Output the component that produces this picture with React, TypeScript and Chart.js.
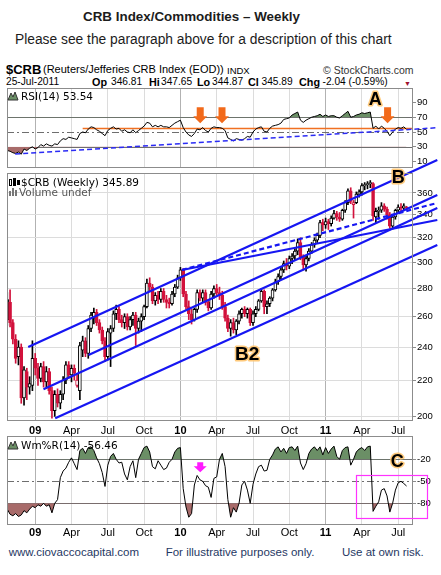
import React, { useEffect, useRef } from "react";
import { Chart, registerables } from "chart.js";

Chart.register(...registerables);

const SANS = '"Liberation Sans", Arial, Helvetica, sans-serif';
const VERD = '"DejaVu Sans", Verdana, sans-serif';

// ---------------- data (weekly bars, 27-Oct-2008 .. 25-Jul-2011) ----------------
const opens = [258,270,256,245,234,240,210,225,216,217, 233,227,221,228,219,225,214,203,212,207, 212,220,229,223,227,217,214,238,244,236, 252,259,263,256,251,244,234,249,252,262, 265,258,256,260,253,258,261,252,257,260, 267,284,281,271,275,272,278,272,270,269, 276,281,288,294,276,267,262,258,265,277, 273,277,270,266,276,280,277,275,267,259, 252,256,251,257,262,265,262,265,256,262, 265,271,278,267,269,273,279,285,289,294, 299,297,303,305,309,316,304,298,303,309, 314,318,322,333,331,334,332,337,341,338, 336,344,351,362,349,351,359,361,367,368, 369,369,338,343,344,348,345,340,330,338, 344,347,346,346.81];
const highs = [277,279,258,248,244,242,228,227,222,244, 236,230,230,231,228,227,216,214,215,214, 222,231,231,229,229,224,243,247,246,254, 263,266,265,258,253,246,252,254,264,268, 267,261,262,262,260,263,263,259,262,268, 287,288,283,277,278,280,280,275,273,278, 283,290,296,295,278,271,265,266,279,279, 279,279,272,278,282,283,281,278,270,261, 258,259,258,264,266,267,266,266,264,267, 272,280,279,271,274,280,287,291,296,301, 303,305,307,311,319,320,306,305,311,316, 320,324,335,336,337,336,339,344,343,342, 345,353,364,365,353,361,363,369,370,371, 372,370,346,347,351,350,347,342,340,345, 349,350,350,347.65];
const lows = [254,253,242,230,229,207,206,209,212,214, 223,217,219,216,216,212,199,200,205,204, 209,218,221,219,220,216,209,234,234,233, 250,255,254,249,242,231,232,228,250,258, 256,253,252,251,251,254,241,249,250,258, 266,278,269,268,269,270,270,266,266,268, 274,280,286,274,265,258,255,257,263,271, 270,268,264,265,273,275,272,265,257,250, 247,249,248,255,259,260,259,254,254,260, 264,270,262,262,267,271,278,283,287,292, 294,295,299,302,306,302,294,293,301,307, 312,316,320,326,328,327,330,336,335,334, 335,342,349,350,337,350,356,358,363,364, 365,335,333,336,342,343,336,328,328,336, 342,343,344,344.87];
const closes = [272,256,245,233,240,210,226,216,218,233, 227,221,228,219,225,214,203,212,207,212, 220,229,223,227,224,220,241,244,236,252, 261,263,256,251,244,234,250,252,262,265, 258,256,260,253,258,261,252,257,260,267, 284,281,271,275,272,278,272,270,269,276, 281,288,294,276,267,262,258,265,277,273, 277,270,266,276,280,277,275,267,259,252, 256,251,257,262,265,262,265,256,262,265, 271,278,267,269,273,279,285,289,294,299, 297,303,305,309,316,304,298,303,309,314, 318,322,333,331,334,332,337,341,338,336, 344,351,362,352,351,359,361,367,368,369, 370,339,343,344,348,345,340,330,338,344, 347,346,347.93,345.89];
const rsi14 = [25,24,22,21,23,20,27,25,28,30, 27,29,33,31,34,32,31,34,33,38, 41,40,43,42,41,40,48,50,49,54, 57,56,53,51,48,45,52,55,57,54, 55,51,53,50,49,53,49,52,55,58, 63,62,57,59,57,59,57,57,56,59, 62,64,66,56,50,46,44,48,54,53, 56,52,50,55,57,56,56,55,52,42, 40,38,41,40,39,41,44,43,50,54, 56,57,51,50,55,58,59,60,62,67, 68,69,73,75,77,66,63,66,68,70, 71,72,74,71,73,71,72,72,70,69, 72,75,78,70,71,73,74,76,75,76, 77,55,58,54,58,55,51,45,50,54, 56,55,57,53.54];
const willR14 = [-88,-95,-97,-94,-98,-96,-90,-93,-88,-84, -86,-82,-84,-80,-84,-82,-93,-80,-75,-45, -36,-32,-24,-18,-26,-34,-8,-5,-12,-4, -3,-8,-18,-26,-38,-57,-28,-16,-12,-20, -25,-24,-40,-48,-30,-22,-45,-20,-12,-4, -2,-10,-30,-33,-22,-28,-34,-32,-24,-20, -10,-5,-4,-60,-85,-99,-94,-55,-42,-48, -50,-56,-58,-72,-46,-44,-20,-12,-30,-75, -99,-86,-92,-80,-55,-50,-62,-80,-54,-40, -30,-28,-36,-35,-20,-14,-6,-3,-10,-5, -12,-4,-3,-8,-2,-25,-34,-26,-12,-6, -3,-8,-3,-14,-4,-12,-6,-2,-16,-20, -8,-4,-3,-28,-20,-10,-6,-4,-8,-3, -2,-91,-84,-78,-62,-60,-70,-92,-80,-62, -52,-50,-53,-56.46];

const weeks = closes.map((_, i) => i);
const quarterWeeks = [10, 23, 36, 49, 62, 75, 88, 101, 114, 127, 140];
const quarterLabels = ["09", "Apr", "Jul", "Oct", "10", "Apr", "Jul", "Oct", "11", "Apr", "Jul"];
const yearWeeks = [10, 62, 114];
const priceTicks = [200, 220, 240, 260, 280, 300, 320, 340, 360];
const rsiTicks = [10, 30, 50, 70, 90];
const willTicks = [-20, -50, -80];

// trend lines drawn on the chart: [week, value] end points
const priceTrendLines = [
  { pts: [[7.5, 240.0], [154, 392.7]], dashed: false },
  { pts: [[29.1, 235.0], [154, 358.1]], dashed: false },
  { pts: [[12.97, 214.8], [154, 346.1]], dashed: false },
  { pts: [[17.16, 199.0], [154, 314.0]], dashed: false },
  { pts: [[62.54, 294.0], [154, 350.7]], dashed: true },
  { pts: [[62.54, 294.0], [154, 335.3]], dashed: false },
];
const rsiTrendLine = [[2.83, 20.3], [154, 55.8]];
const rsiSignalLevel = 56;
const rsiSignalStartWeek = 27;
const rsiArrowWeeks = [69.1, 76.9, 136.2];
const rsiArrowTip = 61.8;
const labelA = [131.8, 93.2];
const labelB = [140, 374.5];
const labelB2 = [85.9, 235];
const labelC = [139.7, -23.7];
const willArrow = [69.1, -37.7];
const willBox = [[124.9, -41.4], [150.3, -100.5]];

// ---------------- helpers ----------------
const UP = "#000000";
const DOWN = "#d2123c";
const GREEN = "#6b8f66";
const RED = "#a86b6a";
const candleColor = weeks.map((i) => (closes[i] < (i > 0 ? closes[i - 1] : opens[i]) ? DOWN : UP));
const bodyFill = weeks.map((i) => (closes[i] > opens[i] ? "#ffffff" : candleColor[i]));

function frame(chart: any) {
  const { ctx, chartArea: a } = chart;
  ctx.save();
  ctx.strokeStyle = "#8c8c8c";
  ctx.lineWidth = 1;
  ctx.strokeRect(Math.round(a.left) + 0.5, Math.round(a.top) + 0.5, Math.round(a.right - a.left) - 1, Math.round(a.bottom - a.top) - 1);
  ctx.restore();
}

function refLine(chart: any, value: number, color: string, dash: number[], width: number, fromWeek?: number) {
  const { ctx, chartArea: a, scales } = chart;
  const y = Math.round(scales.y.getPixelForValue(value)) + 0.5;
  const x0 = fromWeek !== undefined ? scales.x.getPixelForValue(fromWeek) : a.left;
  ctx.save();
  ctx.beginPath();
  ctx.setLineDash(dash);
  ctx.strokeStyle = color;
  ctx.lineWidth = width;
  ctx.moveTo(x0, y);
  ctx.lineTo(a.right, y);
  ctx.stroke();
  ctx.restore();
}

function downArrow(ctx: any, x: number, tipY: number, color: string, stemW: number, stemH: number, headW: number, headH: number) {
  const top = tipY - headH - stemH;
  ctx.save();
  ctx.fillStyle = color;
  ctx.beginPath();
  ctx.moveTo(x - stemW / 2, top);
  ctx.lineTo(x + stemW / 2, top);
  ctx.lineTo(x + stemW / 2, tipY - headH);
  ctx.lineTo(x + headW / 2, tipY - headH);
  ctx.lineTo(x, tipY);
  ctx.lineTo(x - headW / 2, tipY - headH);
  ctx.lineTo(x - stemW / 2, tipY - headH);
  ctx.closePath();
  ctx.fill();
  ctx.restore();
}

function tag(chart: any, text: string, pos: number[], size: number) {
  const { ctx, scales } = chart;
  const x = scales.x.getPixelForValue(pos[0]);
  const y = scales.y.getPixelForValue(pos[1]);
  ctx.save();
  ctx.font = `bold ${size}px ${SANS}`;
  ctx.textAlign = "center";
  ctx.textBaseline = "middle";
  ctx.lineJoin = "round";
  ctx.lineWidth = 3;
  ctx.strokeStyle = "rgba(255,196,110,0.9)";
  ctx.strokeText(text, x, y);
  ctx.fillStyle = "#000";
  ctx.fillText(text, x, y);
  ctx.restore();
}

function mountainIcon(ctx: any, x: number, y: number) {
  ctx.save();
  ctx.beginPath();
  ctx.moveTo(x, y);
  ctx.lineTo(x + 3, y - 7);
  ctx.lineTo(x + 5, y - 3);
  ctx.lineTo(x + 7, y - 8);
  ctx.lineTo(x + 10, y);
  ctx.closePath();
  ctx.fillStyle = GREEN;
  ctx.fill();
  ctx.strokeStyle = "#333";
  ctx.lineWidth = 1;
  ctx.stroke();
  ctx.restore();
}

function panelText(ctx: any, text: string, x: number, y: number, color = "#000") {
  ctx.save();
  ctx.font = `10.5px ${VERD}`;
  ctx.fillStyle = color;
  ctx.textAlign = "left";
  ctx.textBaseline = "alphabetic";
  ctx.fillText(text, x, y);
  ctx.restore();
}

const xGridColor = (c: any) => (c.tick && yearWeeks.includes(c.tick.value) ? "#b2b2b2" : "#dcdcdc");

function xAxis(showLabels: boolean, height: number, padding: number) {
  return {
    type: "linear",
    min: -0.1,
    max: 145.3,
    offset: false,
    grid: { offset: false, color: xGridColor, drawTicks: false, lineWidth: 1 },
    border: { display: false },
    afterBuildTicks: (s: any) => {
      s.ticks = quarterWeeks.map((v) => ({ value: v }));
    },
    afterFit: (s: any) => {
      s.height = height;
    },
    ticks: {
      display: showLabels,
      autoSkip: false,
      maxRotation: 0,
      padding,
      color: "#000",
      font: (c: any) => ({ family: SANS, size: 11, weight: c.tick && yearWeeks.includes(c.tick.value) ? "bold" : "normal" }),
      callback: (_v: any, idx: number) => quarterLabels[idx] ?? "",
    },
  };
}

function yAxisBase(ticks: number[], onArea: boolean) {
  return {
    position: "right",
    grid: { color: onArea ? "#dcdcdc" : "rgba(0,0,0,0)", drawOnChartArea: onArea, tickColor: "#8c8c8c", tickLength: 3, drawTicks: true },
    border: { display: false },
    afterBuildTicks: (s: any) => {
      s.ticks = ticks.map((v) => ({ value: v }));
    },
    afterFit: (s: any) => {
      s.width = 28;
    },
    ticks: { padding: 1, color: "#000", font: { family: SANS, size: 9.5 }, autoSkip: false, callback: (v: any) => String(v) },
  };
}

const baseOptions = {
  responsive: false,
  animation: false,
  devicePixelRatio: 1,
  events: [],
};

// ---------------- RSI panel ----------------
function buildRsi() {
  const rsiPts = weeks.map((i) => ({ x: i, y: rsi14[i] }));
  const plugin = {
    id: "rsiDeco",
    beforeDatasetsDraw(chart: any) {
      refLine(chart, 70, "#6e6e6e", [], 1);
      refLine(chart, 30, "#6e6e6e", [], 1);
      refLine(chart, 50, "#6e6e6e", [7, 3, 2, 3], 1);
      refLine(chart, rsiSignalLevel, "#f07022", [], 1.6, rsiSignalStartWeek);
    },
    afterDatasetsDraw(chart: any) {
      const { ctx, chartArea: a, scales } = chart;
      frame(chart);
      for (const w of rsiArrowWeeks) {
        downArrow(ctx, scales.x.getPixelForValue(w), scales.y.getPixelForValue(rsiArrowTip), "#f26a1b", 7, 9, 14, 7);
      }
      tag(chart, "A", labelA, 18);
      mountainIcon(ctx, a.left + 1, a.top + 12);
      panelText(ctx, "RSI(14) 53.54", a.left + 14, a.top + 12);
    },
  };
  return {
    type: "line",
    data: {
      datasets: [
        { data: rsiPts, borderColor: "#000", borderWidth: 1, pointRadius: 0, tension: 0, fill: { target: { value: 70 }, above: GREEN, below: "rgba(0,0,0,0)" }, order: 1 },
        { data: rsiPts, borderColor: "rgba(0,0,0,0)", borderWidth: 0, pointRadius: 0, tension: 0, fill: { target: { value: 30 }, above: "rgba(0,0,0,0)", below: RED }, order: 2 },
        {
          data: rsiTrendLine.map((p) => ({ x: p[0], y: p[1] })),
          borderColor: "#2b2bf5",
          borderWidth: 1.5,
          borderDash: [5, 3],
          pointRadius: 0,
          fill: false,
          clip: false,
          order: 0,
        },
      ],
    },
    options: {
      ...baseOptions,
      layout: { padding: { left: 7, top: 8, right: 0, bottom: 0 } },
      plugins: { legend: { display: false }, tooltip: { enabled: false } },
      scales: {
        x: xAxis(false, 7, 0),
        y: { ...yAxisBase(rsiTicks, false), type: "linear", min: 1.35, max: 109.5 },
      },
    },
    plugins: [plugin],
  };
}

// ---------------- price panel ----------------
function buildMain() {
  const plugin = {
    id: "mainDeco",
    afterDatasetsDraw(chart: any) {
      const { ctx, chartArea: a } = chart;
      frame(chart);
      tag(chart, "B", labelB, 18);
      tag(chart, "B2", labelB2, 19);
      // candle icon
      ctx.save();
      ctx.strokeStyle = "#000";
      ctx.fillStyle = "#000";
      ctx.lineWidth = 1;
      ctx.strokeRect(a.left + 2.5, a.top + 6.5, 2, 6);
      ctx.fillRect(a.left + 6, a.top + 5, 3, 8);
      ctx.fillRect(a.left + 10, a.top + 7, 3, 5);
      ctx.fillStyle = "#777";
      ctx.fillRect(a.left + 2, a.top + 18, 2, 5);
      ctx.fillRect(a.left + 5, a.top + 15, 2, 8);
      ctx.fillRect(a.left + 8, a.top + 17, 2, 6);
      ctx.restore();
      panelText(ctx, "$CRB (Weekly) 345.89", a.left + 14, a.top + 12.5);
      panelText(ctx, "Volume undef", a.left + 12, a.top + 22.5, "#555");
    },
  };
  return {
    type: "bar",
    data: {
      datasets: [
        ...priceTrendLines.map((t) => ({
          type: "line",
          data: t.pts.map((p) => ({ x: p[0], y: p[1] })),
          borderColor: "#1616f2",
          borderWidth: 2.2,
          borderDash: t.dashed ? [5, 3] : [],
          pointRadius: 0,
          fill: false,
          clip: false,
          order: 0,
        })),
        {
          type: "bar",
          data: weeks.map((i) => ({ x: i, y: [opens[i], closes[i]] })),
          backgroundColor: bodyFill,
          borderColor: candleColor,
          borderWidth: 1,
          borderSkipped: false,
          barThickness: 3,
          grouped: false,
          order: 1,
        },
        {
          type: "bar",
          data: weeks.map((i) => ({ x: i, y: [lows[i], highs[i]] })),
          backgroundColor: candleColor,
          borderWidth: 0,
          barThickness: 1,
          grouped: false,
          order: 2,
        },
      ],
    },
    options: {
      ...baseOptions,
      layout: { padding: { left: 7, top: 23, right: 0, bottom: 0 } },
      plugins: { legend: { display: false }, tooltip: { enabled: false } },
      scales: {
        x: xAxis(true, 21, 3),
        y: { ...yAxisBase(priceTicks, true), type: "logarithmic", min: 197.57, max: 379.45, beginAtZero: false },
      },
    },
    plugins: [plugin],
  };
}

// ---------------- Williams %R panel ----------------
function buildWill() {
  const pts = weeks.map((i) => ({ x: i, y: willR14[i] }));
  const plugin = {
    id: "willDeco",
    beforeDatasetsDraw(chart: any) {
      refLine(chart, -20, "#6e6e6e", [], 1);
      refLine(chart, -80, "#6e6e6e", [], 1);
      refLine(chart, -50, "#6e6e6e", [7, 3, 2, 3], 1);
    },
    afterDatasetsDraw(chart: any) {
      const { ctx, chartArea: a, scales } = chart;
      frame(chart);
      downArrow(ctx, scales.x.getPixelForValue(willArrow[0]), scales.y.getPixelForValue(willArrow[1]), "#ff1aff", 6, 4, 13, 6);
      tag(chart, "C", labelC, 18);
      const x0 = scales.x.getPixelForValue(willBox[0][0]);
      const y0 = scales.y.getPixelForValue(willBox[0][1]);
      const x1 = scales.x.getPixelForValue(willBox[1][0]);
      const y1 = scales.y.getPixelForValue(willBox[1][1]);
      ctx.save();
      ctx.strokeStyle = "#ff33ff";
      ctx.lineWidth = 1.2;
      ctx.strokeRect(Math.round(x0) + 0.5, Math.round(y0) + 0.5, Math.round(x1 - x0), Math.round(y1 - y0));
      ctx.restore();
      mountainIcon(ctx, a.left + 1, a.top + 13);
      panelText(ctx, "Wm%R(14) -56.46", a.left + 14, a.top + 13);
    },
  };
  return {
    type: "line",
    data: {
      datasets: [
        { data: pts, borderColor: "#000", borderWidth: 1, pointRadius: 0, tension: 0, fill: { target: { value: -20 }, above: GREEN, below: "rgba(0,0,0,0)" }, order: 1 },
        { data: pts, borderColor: "rgba(0,0,0,0)", borderWidth: 0, pointRadius: 0, tension: 0, fill: { target: { value: -80 }, above: "rgba(0,0,0,0)", below: RED }, order: 2 },
      ],
    },
    options: {
      ...baseOptions,
      layout: { padding: { left: 7, top: 8, right: 0, bottom: 0 } },
      plugins: { legend: { display: false }, tooltip: { enabled: false } },
      scales: {
        x: xAxis(true, 18, 1),
        y: { ...yAxisBase(willTicks, false), type: "linear", min: -109.6, max: 11.8 },
      },
    },
    plugins: [plugin],
  };
}

const abs = (left: number, top: number, size: number, extra: any = {}) => ({
  position: "absolute" as const,
  left,
  top,
  fontSize: size,
  lineHeight: 1,
  whiteSpace: "nowrap" as const,
  ...extra,
});

export default function App() {
  const rsiRef = useRef<HTMLCanvasElement>(null);
  const mainRef = useRef<HTMLCanvasElement>(null);
  const willRef = useRef<HTMLCanvasElement>(null);

  useEffect(() => {
    document.body.style.margin = "0";
    const c1 = new Chart(rsiRef.current as HTMLCanvasElement, buildRsi() as any);
    const c3 = new Chart(willRef.current as HTMLCanvasElement, buildWill() as any);
    const c2 = new Chart(mainRef.current as HTMLCanvasElement, buildMain() as any);
    return () => {
      c1.destroy();
      c2.destroy();
      c3.destroy();
    };
  }, []);

  const navy = "#1f3864";
  return (
    <div style={{ position: "relative", width: 441, height: 575, overflow: "hidden", background: "#fff", fontFamily: SANS, color: "#000" }}>
      <div style={abs(83, 10, 13.4, { fontWeight: 700, color: "#1c1c1c" })}>CRB Index/Commodities – Weekly</div>
      <div style={abs(15, 33, 13.8, { color: "#1c1c1c" })}>Please see the paragraph above for a description of this chart</div>

      <div style={abs(6, 63, 13, { fontWeight: 700 })}>$CRB</div>
      <div style={abs(43, 64.3, 11)}>(Reuters/Jefferies CRB Index (EOD))</div>
      <div style={abs(227, 65.5, 9.5)}>INDX</div>
      <div style={abs(323, 64.6, 10.5, { color: "#333" })}>© StockCharts.com</div>

      <div style={abs(6, 77.2, 10.2)}>25-Jul-2011</div>
      <div style={abs(92, 76.8, 10.8, { fontWeight: 700 })}>Op</div>
      <div style={abs(111, 77.2, 10.2)}>346.81</div>
      <div style={abs(149, 76.8, 10.8, { fontWeight: 700 })}>Hi</div>
      <div style={abs(161, 77.2, 10.2)}>347.65</div>
      <div style={abs(197, 76.8, 10.8, { fontWeight: 700 })}>Lo</div>
      <div style={abs(212, 77.2, 10.2)}>344.87</div>
      <div style={abs(248, 76.8, 10.8, { fontWeight: 700 })}>Cl</div>
      <div style={abs(261.5, 77.2, 10.2)}>345.89</div>
      <div style={abs(299, 76.8, 10.8, { fontWeight: 700 })}>Chg</div>
      <div style={abs(322.5, 77.2, 10.2)}>-2.04 (-0.59%)</div>
      <div style={abs(404, 79.5, 7, { color: "#a0122e" })}>▼</div>

      <canvas ref={rsiRef} width={441} height={95} style={{ position: "absolute", left: 0, top: 80, display: "block" }} />
      <canvas ref={willRef} width={441} height={115} style={{ position: "absolute", left: 0, top: 428, display: "block" }} />
      <canvas ref={mainRef} width={441} height={292} style={{ position: "absolute", left: 0, top: 150, display: "block" }} />

      <div style={abs(8.7, 547, 11.5, { color: navy })}>www.ciovaccocapital.com</div>
      <div style={abs(165.7, 547, 11.5, { color: navy })}>For illustrative purposes only.</div>
      <div style={abs(342, 547, 11.5, { color: navy })}>Use at own risk.</div>
    </div>
  );
}
